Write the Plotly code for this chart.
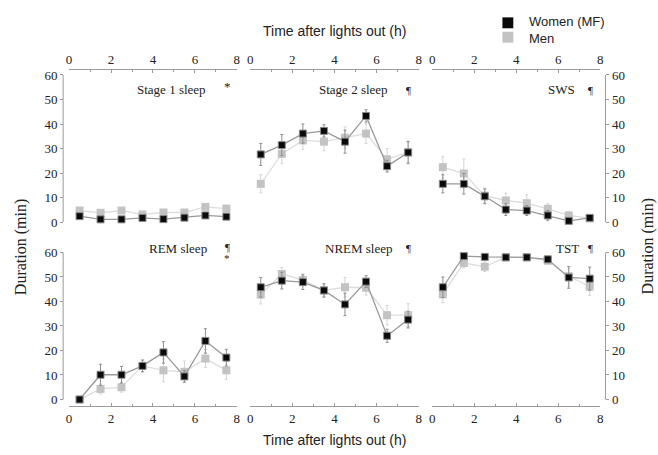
import plotly.graph_objects as go

W, H = 658, 455

hours = [0.5, 1.5, 2.5, 3.5, 4.5, 5.5, 6.5, 7.5]
x_ticks = [0, 2, 4, 6, 8]
y_ticks = [0, 10, 20, 30, 40, 50, 60]

panel_titles = ["Stage 1 sleep", "Stage 2 sleep", "SWS", "REM sleep", "NREM sleep", "TST"]
panel_marks = ["*", "¶", "¶", "¶*", "¶", "¶"]

# Women (MF) means and SEM
women = {
    "Stage 1 sleep": [2.4, 1.1, 1.1, 1.7, 1.2, 1.8, 2.7, 2.2],
    "Stage 2 sleep": [27.6, 31.4, 36.1, 37.2, 32.8, 43.3, 22.8, 28.4],
    "SWS": [15.6, 15.6, 10.5, 5.1, 4.7, 2.7, 0.5, 1.7],
    "REM sleep": [0.0, 10.1, 10.1, 13.7, 19.2, 9.4, 23.9, 17.1],
    "NREM sleep": [45.8, 48.5, 47.9, 44.5, 38.8, 48.1, 26.0, 32.6],
    "TST": [45.8, 58.5, 58.2, 58.0, 58.0, 57.2, 49.8, 49.3],
}
women_err = {
    "Stage 1 sleep": [1.0, 0.6, 0.6, 0.8, 0.7, 0.8, 1.0, 0.9],
    "Stage 2 sleep": [4.5, 4.3, 3.9, 2.5, 4.7, 2.5, 2.4, 4.4],
    "SWS": [3.7, 4.2, 3.0, 2.4, 2.0, 2.0, 1.0, 1.0],
    "REM sleep": [0.0, 4.3, 3.4, 2.4, 4.4, 2.4, 5.0, 3.4],
    "NREM sleep": [4.0, 3.4, 3.0, 2.7, 4.6, 2.4, 2.7, 3.4],
    "TST": [4.2, 1.0, 1.0, 0.8, 0.8, 1.0, 4.4, 4.7],
}
# Men means and SEM
men = {
    "Stage 1 sleep": [4.7, 3.8, 4.7, 3.1, 3.9, 3.9, 6.2, 5.5],
    "Stage 2 sleep": [15.6, 27.8, 33.3, 32.8, 34.4, 36.1, 25.6, 28.4],
    "SWS": [22.4, 19.8, 10.8, 8.8, 7.7, 5.4, 2.7, 1.5],
    "REM sleep": [0.0, 4.3, 5.0, 13.7, 11.9, 11.3, 16.7, 11.9],
    "NREM sleep": [42.8, 51.2, 48.8, 44.5, 45.8, 45.6, 34.4, 34.4],
    "TST": [42.9, 55.7, 54.2, 58.0, 58.0, 56.6, 50.3, 46.1],
}
men_err = {
    "Stage 1 sleep": [1.0, 1.0, 1.0, 0.8, 1.0, 1.0, 1.2, 1.2],
    "Stage 2 sleep": [3.7, 4.0, 3.7, 3.7, 4.4, 4.0, 4.4, 4.7],
    "SWS": [4.4, 5.9, 3.0, 3.0, 3.4, 2.0, 1.5, 1.5],
    "REM sleep": [0.0, 2.0, 2.0, 2.4, 4.7, 4.4, 3.7, 3.7],
    "NREM sleep": [3.8, 2.6, 2.4, 2.7, 4.0, 3.0, 4.0, 4.7],
    "TST": [3.4, 2.0, 2.0, 0.8, 0.8, 1.0, 4.0, 3.7],
}

series_names = ["Women (MF)", "Men"]
axis_title_x = "Time after lights out (h)"
axis_title_y = "Duration (min)"

# ---------- layout geometry (pixels) ----------
def px(p):
    return p / W

def py(p):
    return 1 - p / H

col_px = [(66.7, 236.0), (249.5, 419.5), (433.3, 602.7)]
row_rng = [(-3.0, 62.0), (-2.7, 62.0)]
row_zero = [221.0, 400.0]
row_scale = [2.473, 2.472]

def ypix(row, v):
    return row_zero[row] - row_scale[row] * v

serif = "Liberation Serif, Times New Roman, serif"
sans = "Liberation Sans, Arial, sans-serif"
axis_col = "#9a9a9a"
text_col = "#222222"

BLACK_FILL = "#0a0a0a"
BLACK_LINE = "#999999"
GRAY_FILL = "#c3c3c3"
GRAY_LINE = "#dddddd"

fig = go.Figure()
layout = dict(
    width=W, height=H,
    margin=dict(l=0, r=0, t=0, b=0),
    paper_bgcolor="white", plot_bgcolor="rgba(0,0,0,0)",
    showlegend=False,
)
shapes = []
annotations = []

def note(text, x, y, size, family=serif, angle=0, anchor="center"):
    annotations.append(dict(text=text, x=px(x), y=py(y), xref="paper", yref="paper",
                            showarrow=False, xanchor=anchor, yanchor="middle", textangle=angle,
                            font=dict(family=family, size=size, color=text_col)))

for i, name in enumerate(panel_titles):
    row, col = divmod(i, 3)
    n = i + 1
    xa = "xaxis" if n == 1 else f"xaxis{n}"
    ya = "yaxis" if n == 1 else f"yaxis{n}"
    xr = "x" if n == 1 else f"x{n}"
    yr = "y" if n == 1 else f"y{n}"
    r0, r1 = row_rng[row]
    y_bot = ypix(row, r0)
    y_top = ypix(row, r1)

    # Men (gray) first, Women on top
    fig.add_trace(go.Scatter(
        x=hours, y=men[name], xaxis=xr, yaxis=yr, mode="lines+markers",
        name=series_names[1],
        line=dict(color=GRAY_LINE, width=1.3),
        marker=dict(symbol="square", size=8, color=GRAY_FILL, line=dict(width=0)),
        error_y=dict(type="data", array=men_err[name], color="#d4d4d4", thickness=1, width=1.5),
        cliponaxis=False,
    ))
    fig.add_trace(go.Scatter(
        x=hours, y=women[name], xaxis=xr, yaxis=yr, mode="lines+markers",
        name=series_names[0],
        line=dict(color=BLACK_LINE, width=1.3),
        marker=dict(symbol="square", size=7, color=BLACK_FILL, line=dict(width=1, color="#8a8a8a")),
        error_y=dict(type="data", array=women_err[name], color="#8f8f8f", thickness=1, width=1.5),
        cliponaxis=False,
    ))

    x0, x1 = col_px[col]
    layout[xa] = dict(
        domain=[px(x0), px(x1)], range=[0, 8], anchor=yr,
        side="top" if row == 0 else "bottom",
        tickvals=x_ticks, ticks="inside", ticklen=3, tickcolor=axis_col, tickwidth=1,
        minor=dict(tickvals=[1, 3, 5, 7], ticks="inside", ticklen=2, tickcolor=axis_col),
        showline=True, linecolor=axis_col, linewidth=1,
        showgrid=False, zeroline=False,
        tickfont=dict(family=serif, size=13, color=text_col),
    )
    yaxis = dict(
        domain=[py(y_bot), py(y_top)], range=[r0, r1],
        showgrid=False, zeroline=False, showline=False,
    )
    if col == 1:
        yaxis.update(anchor=xr, showticklabels=False, ticks="")
    else:
        pos = 60.7 if col == 0 else 608.0
        yaxis.update(
            anchor="free", position=px(pos), side="left" if col == 0 else "right",
            tickvals=y_ticks, ticks="outside", ticklen=3, tickcolor=axis_col,
            tickfont=dict(family=serif, size=13, color=text_col),
        )
        shapes.append(dict(type="line", xref="paper", yref=yr, x0=px(pos), x1=px(pos),
                           y0=0, y1=60, line=dict(color=axis_col, width=1)))
    layout[ya] = yaxis

    # panel title and significance marks
    title_cx = [170.5, 353.5, 563.5][col] if row == 0 else [177.0, 359.7, 570.0][col]
    title_y = 87.5 if row == 0 else 247.5
    note(name, title_cx, title_y, 13)
    mark_x = x0 + 159.5
    marks = panel_marks[i]
    if marks == "*":
        note("*", mark_x, title_y - 3, 13)
    elif marks == "¶":
        note("¶", mark_x, title_y, 11)
    else:
        note("¶", mark_x, title_y - 1, 11)
        note("*", mark_x, title_y + 10, 11)

# axis titles
for ty in (28.5, 440.5):
    note(axis_title_x, 335, ty, 14, family=sans)
for tx in (18.5, 650.5):
    note(axis_title_y, tx, 246, 16, angle=-90)

# legend (swatches + one text block)
for color, ly in ((BLACK_FILL, 20.0), (GRAY_FILL, 34.5)):
    shapes.append(dict(type="rect", xref="paper", yref="paper",
                       x0=px(504), x1=px(515), y0=py(ly + 5.5), y1=py(ly - 5.5),
                       fillcolor=color, line=dict(width=0)))
annotations.append(dict(text=series_names[0] + "<br>" + series_names[1],
                        x=px(529), y=py(27.5), xref="paper", yref="paper",
                        showarrow=False, xanchor="left", yanchor="middle", align="left",
                        font=dict(family=sans, size=13, color=text_col)))

layout["shapes"] = shapes
layout["annotations"] = annotations
fig.update_layout(**layout)
fig.write_html("out.html")
